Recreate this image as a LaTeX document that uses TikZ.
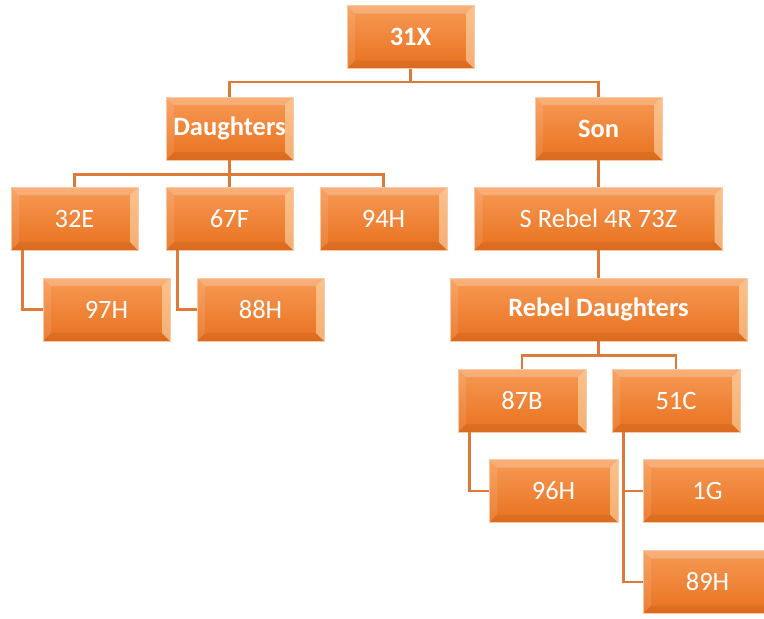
\documentclass[tikz,border=0pt]{standalone}
\usepackage{fontspec}
\setmainfont{Carlito}
\definecolor{otop}{HTML}{F79A55}
\definecolor{obot}{HTML}{E8711F}
\definecolor{oedge}{HTML}{F9C8A4}
\definecolor{oline}{HTML}{DD7A38}
\definecolor{ohigh}{HTML}{FFE3B8}
\tikzset{
  obox/.style={rectangle, minimum width=127pt, minimum height=63pt, inner sep=0pt,
    top color=otop, bottom color=obot, draw=oedge, line width=0.8pt,
    text=white, font=\fontsize{26.5}{30}\selectfont,
    path picture={
      \coordinate (nw) at (path picture bounding box.north west);
      \coordinate (ne) at (path picture bounding box.north east);
      \coordinate (sw) at (path picture bounding box.south west);
      \coordinate (se) at (path picture bounding box.south east);
      \fill[white,opacity=0.22] (nw) -- (ne) -- ([xshift=-8pt,yshift=-8pt]ne) -- ([xshift=8pt,yshift=-8pt]nw) -- cycle;
      \fill[white,opacity=0.10] (nw) -- (sw) -- ([xshift=8pt,yshift=8pt]sw) -- ([xshift=8pt,yshift=-8pt]nw) -- cycle;
      \fill[ohigh,opacity=0.55] (ne) -- (se) -- ([xshift=-8pt,yshift=8pt]se) -- ([xshift=-8pt,yshift=-8pt]ne) -- cycle;
      \fill[black,opacity=0.06] (sw) -- (se) -- ([xshift=-8pt,yshift=8pt]se) -- ([xshift=8pt,yshift=8pt]sw) -- cycle;
    }},
  bbox/.style={obox, font=\fontsize{26.5}{30}\selectfont\bfseries},
  conn/.style={draw=oline, line width=2.8pt}
}
\begin{document}
\begin{tikzpicture}[x=1pt,y=-1pt]
\useasboundingbox (0,0) rectangle (764,619);
\node[bbox] (x31) at (410.5,37) {31X};
\node[bbox] (dau) at (229.5,128.5) {Daughters};
\node[bbox] (son) at (598.5,128.5) {Son};
\node[obox] (e32) at (74.5,218.5) {32E};
\node[obox] (f67) at (229.5,218.5) {67F};
\node[obox] (h94) at (383.5,218.5) {94H};
\node[obox] (h97) at (106.5,309.5) {97H};
\node[obox] (h88) at (260.5,309.5) {88H};
\node[obox, minimum width=248pt] (srb) at (598.5,218.5) {S Rebel 4R 73Z};
\node[bbox, minimum width=297pt] (rdau) at (598.5,309.5) {Rebel Daughters};
\node[obox, minimum width=128pt] (b87) at (522,400.5) {87B};
\node[obox, minimum width=128pt] (c51) at (676,400.5) {51C};
\node[obox, minimum width=129pt] (h96) at (553.5,491) {96H};
\node[obox, minimum width=129pt] (g1) at (707.5,491) {1G};
\node[obox, minimum width=129pt] (h89) at (707.5,582) {89H};
% connectors
\draw[conn] (x31.south) -- ++(0,13) -| (dau.north);
\draw[conn] (x31.south) -- ++(0,13) -| (son.north);
\draw[conn] (dau.south) -- ++(0,14) -| (e32.north);
\draw[conn] (dau.south) -- ++(0,14) -| (h94.north);
\draw[conn] (dau.south) -- (f67.north);
\draw[conn] ([xshift=12pt]e32.south west) |- (h97.west);
\draw[conn] ([xshift=12pt]f67.south west) |- (h88.west);
\draw[conn] (son.south) -- (srb.north);
\draw[conn] (srb.south) -- (rdau.north);
\draw[conn] (rdau.south) -- ++(0,14) -| (b87.north);
\draw[conn] (rdau.south) -- ++(0,14) -| (c51.north);
\draw[conn] ([xshift=12pt]b87.south west) |- (h96.west);
\draw[conn] ([xshift=12pt]c51.south west) |- (g1.west);
\draw[conn] ([xshift=12pt]c51.south west) |- (h89.west);
\end{tikzpicture}
\end{document}
